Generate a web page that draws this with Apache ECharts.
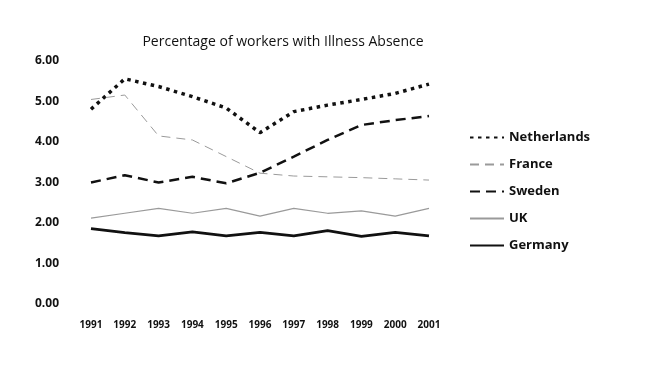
<!DOCTYPE html>
<html>
<head>
<meta charset="utf-8">
<script src="https://cdn.jsdelivr.net/npm/echarts@6/dist/echarts.min.js"></script>
<style>
  html, body { margin: 0; padding: 0; background: #fff; }
  #chart { width: 657px; height: 377px; }
</style>
</head>
<body>
<div id="chart"></div>
<script>
  const years = ['1991', '1992', '1993', '1994', '1995', '1996', '1997', '1998', '1999', '2000', '2001']
  const netherlands = [4.81, 5.56, 5.37, 5.12, 4.84, 4.23, 4.75, 4.91, 5.05, 5.2, 5.43]
  const france = [5.05, 5.16, 4.15, 4.05, 3.64, 3.23, 3.16, 3.14, 3.12, 3.09, 3.06]
  const sweden = [3.0, 3.18, 3.0, 3.14, 2.98, 3.24, 3.64, 4.05, 4.42, 4.54, 4.64]
  const uk = [2.12, 2.24, 2.36, 2.24, 2.36, 2.17, 2.36, 2.24, 2.30, 2.17, 2.36]
  const germany = [1.86, 1.76, 1.68, 1.78, 1.68, 1.77, 1.68, 1.81, 1.67, 1.77, 1.68]

  const chart = echarts.init(document.getElementById('chart'))
  const font = '"Open Sans", "Noto Sans", sans-serif'

  // one helper per line so the styles stay in one place
  const line = (name, data, color, width, type) => ({
    name,
    type: 'line',
    data,
    symbol: 'none',
    silent: true,
    lineStyle: { color, width, type },
    itemStyle: { color }
  })

  chart.setOption({
    animation: false,
    textStyle: { fontFamily: font },
    title: {
      text: 'Percentage of workers with Illness Absence',
      left: 278,
      textAlign: 'center',
      top: 30,
      textStyle: { fontSize: 14, fontWeight: 500, color: '#111', fontFamily: font }
    },
    legend: {
      orient: 'vertical',
      left: 464,
      top: 126,
      itemGap: 14,
      itemWidth: 34,
      itemHeight: 13,
      itemStyle: { opacity: 0 },
      textStyle: { fontSize: 13, fontWeight: 'bold', color: '#111', fontFamily: font },
      data: ['Netherlands', 'France', 'Sweden', 'UK', 'Germany']
    },
    grid: { left: 91, right: 228, top: 61, bottom: 73 },
    xAxis: {
      type: 'category',
      data: years,
      boundaryGap: false,
      axisLine: { show: false },
      axisTick: { show: false },
      axisLabel: { margin: 16, fontSize: 10, fontWeight: 'bold', color: '#111' }
    },
    yAxis: {
      type: 'value',
      min: 0,
      max: 6,
      interval: 1,
      splitLine: { show: false },
      axisLine: { show: false },
      axisTick: { show: false },
      axisLabel: {
        margin: 32,
        fontSize: 12,
        fontWeight: 'bold',
        color: '#111',
        formatter: v => v.toFixed(2)
      }
    },
    series: [
      line('Netherlands', netherlands, '#111', 3.5, [3.5, 4.5]),
      line('France', france, '#9a9a9a', 1, [9, 6]),
      line('Sweden', sweden, '#111', 2.5, [10, 6]),
      line('UK', uk, '#9a9a9a', 1.2, 'solid'),
      line('Germany', germany, '#111', 2.8, 'solid')
    ]
  })
</script>
</body>
</html>
